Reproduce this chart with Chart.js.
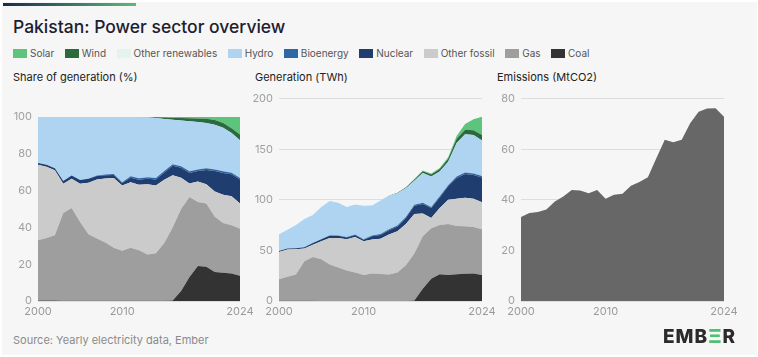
<!DOCTYPE html>
<html><head><meta charset="utf-8">
<script src="https://cdn.jsdelivr.net/npm/chart.js@4"></script>
<style>
html,body{margin:0;padding:0;background:#fff;}
body{width:758px;height:357px;position:relative;overflow:hidden;font-family:Inter,sans-serif;}
#card{position:absolute;left:2px;top:2px;width:755px;height:353px;background:#f6f6f6;}
#bar{position:absolute;left:3px;top:3px;width:133px;height:3px;background:linear-gradient(90deg,#1b2a4e,#5cba7c);}
#title{position:absolute;left:13px;top:16px;font-size:17.5px;font-weight:500;color:#1c2030;white-space:nowrap;}
#legend{position:absolute;left:13px;top:47px;display:flex;font-size:10px;color:#555;line-height:13px;white-space:nowrap;}
.item{display:flex;align-items:center;margin-right:10.5px;}
.sw{width:14px;height:9px;margin-right:3px;}
.sub{position:absolute;top:70px;font-size:11px;color:#222;white-space:nowrap;}
.cw{position:absolute;top:86px;height:234px;}
#source{position:absolute;left:13px;top:333px;font-size:11px;color:#8a8a8a;white-space:nowrap;}
#logo{position:absolute;left:663px;top:325px;font-size:19px;font-weight:800;letter-spacing:1px;color:#2b2b2b;white-space:nowrap;}
#logo span{color:#4fbf73;}
</style>
</head><body>
<div id="card"></div>
<div id="bar"></div>
<div id="title">Pakistan: Power sector overview</div>
<div id="legend"></div>
<div class="sub" style="left:13px">Share of generation (%)</div>
<div class="sub" style="left:255px">Generation (TWh)</div>
<div class="sub" style="left:497px">Emissions (MtCO2)</div>
<div class="cw" style="left:0px;width:262px"><canvas id="c1"></canvas></div>
<div class="cw" style="left:240px;width:264px"><canvas id="c2"></canvas></div>
<div class="cw" style="left:482px;width:264px"><canvas id="c3"></canvas></div>
<div id="source">Source: Yearly electricity data, Ember</div>
<div id="logo">EMB<span>Ξ</span>R</div>
<script>
const years = [2000,2001,2002,2003,2004,2005,2006,2007,2008,2009,2010,2011,2012,2013,2014,2015,2016,2017,2018,2019,2020,2021,2022,2023,2024];
const xTickYears = [2000,2010,2024];
const seriesNames = ['Solar','Wind','Other renewables','Hydro','Bioenergy','Nuclear','Other fossil','Gas','Coal'];
const seriesColors = ['#5cc47b','#2a6a3e','#e4f4ec','#aed4f1','#2f66a6','#1f3e6f','#cbcbcb','#9e9e9e','#333333'];

// Share of generation (%)
const shareSolar = [0,0,0,0,0,0,0,0,0,0,0,0,0,0,0.1,0.3,0.5,0.6,0.7,0.8,1,1.6,3.2,6.1,9.5];
const shareWind = [0,0,0,0,0,0,0,0,0,0,0,0,0.05,0.2,0.4,0.8,1,1.3,1.6,1.9,2.2,2.6,2.6,2.6,3.2];
const shareOtherRen = [0,0,0,0,0,0,0,0,0,0,0,0,0,0,0,0,0,0,0,0,0,0,0,0,0];
const shareHydro = [25,26,27.8,34.8,31.8,34.3,33.5,31.8,31.2,31,35.4,32.2,33.2,32.5,32.7,28.3,24.2,24.8,27.2,25.8,24.7,24.3,23.7,21.6,20.4];
const shareBio = [0,0,0,0,0,0,0,0.3,0.5,0.5,0.5,0.8,0.8,0.8,0.8,0.8,0.8,0.9,0.9,0.9,0.9,0.9,0.9,0.8,0.8];
const shareNuclear = [1,1,1.2,1.5,1.8,2,2.2,1.9,1.7,1.7,1.3,2.4,2.7,3,3.2,3.9,5.2,5.4,5.8,5.6,7.7,11.1,11.9,12,13.1];
const shareOtherFossil = [41,38.7,35.3,15.9,15.9,20.7,28,32,34.8,37.8,35.5,35.6,35.6,38.2,36.8,34.4,28.3,17,7.3,11.2,10.5,13.7,15.3,15.7,13.8];
const shareGas = [32.7,34,35.4,47.6,50.3,42.8,36.2,33.9,31.7,28.9,27.2,28.9,27.5,25.2,25.9,31.4,39.7,44.5,43.5,34.8,34.4,30,27.1,26.2,25.5];
const shareCoal = [0.3,0.3,0.3,0.2,0.2,0.2,0.1,0.1,0.1,0.1,0.1,0.1,0.1,0.1,0.1,0.1,0.3,5.5,13,19,18.6,15.8,15.3,15,13.7];

// Generation (TWh)
const genSolar = [0,0,0,0,0,0,0,0,0,0,0,0,0,0,0.1,0.3,0.6,0.8,0.9,1,1.4,2.6,5.5,11,18];
const genWind = [0,0,0,0,0,0,0,0,0,0,0,0,0.05,0.2,0.4,0.9,1.2,1.7,2,2.5,3.1,4.2,4.6,4.7,5.5];
const genOtherRen = [0,0,0,0,0,0,0,0,0,0,0,0,0,0,0,0,0,0,0,0,0,0,0,0,0];
const genHydro = [16.7,18.7,22.8,27.9,27.7,32,34.1,32.2,29.7,29.6,32.9,29.6,33.2,33,32,28.3,23.8,29.5,30.1,24.5,23,33.2,37.7,38,35];
const genBio = [0,0,0,0,0,0,0,0.3,0.5,0.5,0.5,0.8,0.9,1,1,1,1,1.1,1.1,1.2,1.2,1.4,1.4,1.4,1.4];
const genNuclear = [0.8,1,1.1,1.3,1.6,2,2.3,2.2,1.8,2,1.6,3.3,3.6,4.2,4.6,6,8,9.4,9.9,10.3,13.3,20.6,23.6,23.6,24.6];
const genOtherFossil = [26.9,26.8,24.9,12.5,12.1,17.7,26.3,29.3,30.8,35.1,33.4,33.5,35,39.4,40.7,40.6,39,22.5,10,17,24,27,28.2,28,26.7];
const genGas = [21.4,23.8,26,39.1,43.4,41.2,35.9,32.9,30.1,28.1,25.5,27.1,26.5,26.1,28.1,35.3,46.4,52,50,48.5,50.4,47.5,46.8,45.8,45.2];
const genCoal = [0.2,0.2,0.2,0.2,0.2,0.1,0.1,0.1,0.1,0.1,0.1,0.1,0.1,0.1,0.1,0.1,0.6,12,22,26.5,25.6,26.5,27,27.2,25.6];

// Emissions (MtCO2)
const emissions = [33.2,34.8,35.2,36.2,39.3,41.3,43.9,43.7,42.6,43.9,40.4,42,42.4,45.6,47,48.9,56.4,63.7,62.7,63.7,70.3,74.8,76.1,76.2,72.8];
const emissionsColor = '#676767';

// legend
const leg = document.getElementById('legend');
seriesNames.forEach((n,i)=>{
  const it=document.createElement('div');it.className='item';
  const sw=document.createElement('div');sw.className='sw';sw.style.background=seriesColors[i];
  const tx=document.createElement('span');tx.textContent=n;
  it.appendChild(sw);it.appendChild(tx);leg.appendChild(it);
});

Chart.defaults.font.family = 'Inter, sans-serif';
Chart.defaults.animation = false;

function pts(arr){ return arr.map((v,i)=>({x:years[i],y:v})); }

function baseOptions(yMax, step, tickLimit, leftW){
  return {
    responsive:true, maintainAspectRatio:false, animation:false,
    layout:{padding:{top:4,right:22,left:0,bottom:0}},
    plugins:{legend:{display:false},tooltip:{enabled:false}},
    elements:{point:{radius:0},line:{borderWidth:0,tension:0}},
    scales:{
      x:{type:'linear',min:2000,max:2024,
        grid:{display:false,drawTicks:false},border:{display:false},
        afterBuildTicks:s=>{s.ticks=xTickYears.map(v=>({value:v}));},
        afterFit:s=>{s.height=19;},
        ticks:{color:'#9a9a9a',font:{size:11},padding:4,maxRotation:0,autoSkip:false,callback:v=>String(v)}},
      y:{min:0,max:yMax,stacked:true,
        grid:{color:'#dddddd',drawTicks:false,lineWidth:1},border:{display:false},
        afterBuildTicks:s=>{s.ticks=s.ticks.filter(t=>t.value<=tickLimit);},
        afterFit:s=>{s.width=leftW;},
        ticks:{stepSize:step,color:'#a0a0a0',font:{size:11},padding:6}}
    }
  };
}

function stacked(id, arrays, yMax, step, tickLimit, leftW){
  const ds=[];
  for(let k=arrays.length-1;k>=0;k--){
    const first = ds.length===0;
    ds.push({label:seriesNames[k],data:pts(arrays[k]),backgroundColor:seriesColors[k],borderColor:seriesColors[k],borderWidth:0,fill:first?'origin':'-1',pointRadius:0});
  }
  new Chart(document.getElementById(id),{type:'line',data:{datasets:ds},options:baseOptions(yMax,step,tickLimit,leftW)});
}

stacked('c1',[shareSolar,shareWind,shareOtherRen,shareHydro,shareBio,shareNuclear,shareOtherFossil,shareGas,shareCoal],110,20,100,38);
stacked('c2',[genSolar,genWind,genOtherRen,genHydro,genBio,genNuclear,genOtherFossil,genGas,genCoal],200,50,200,39);
new Chart(document.getElementById('c3'),{type:'line',
  data:{datasets:[{label:'Emissions',data:pts(emissions),backgroundColor:emissionsColor,borderColor:emissionsColor,borderWidth:0,fill:'origin',pointRadius:0}]},
  options:baseOptions(80,20,80,39)});
</script>
</body></html>
